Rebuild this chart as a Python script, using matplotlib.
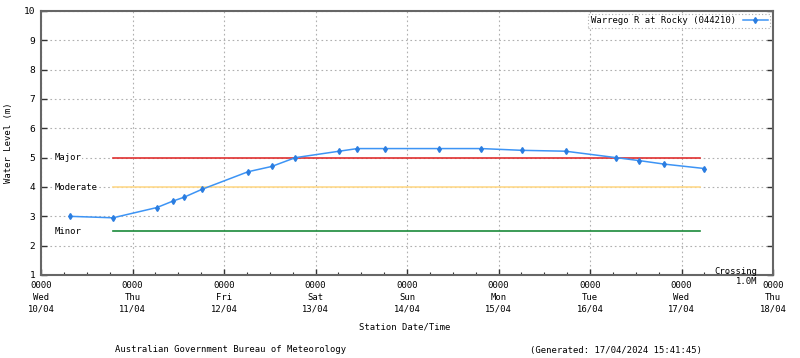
import matplotlib
matplotlib.use("Agg")
import matplotlib.pyplot as plt
from matplotlib.ticker import MultipleLocator

# Data: hours since Wed 10/04/2024 00:00 and water level (m)
hours = [7.6, 18.9, 30.4, 34.6, 37.5, 42.2, 54.3, 60.5, 66.7, 78.2, 83.0,
         90.2, 104.5, 115.5, 126.2, 137.6, 150.9, 156.9, 163.5, 174.0]
levels = [3.00, 2.95, 3.30, 3.52, 3.65, 3.92, 4.52, 4.70, 5.00, 5.22, 5.31,
          5.31, 5.31, 5.31, 5.25, 5.22, 5.00, 4.90, 4.78, 4.63]
series_name = "Warrego R at Rocky (044210)"

thresh_names = ["Major", "Moderate", "Minor"]
thresh_values = [5.0, 4.0, 2.5]
thresh_colors = ["#e03030", "#ffd98a", "#1a8a3a"]
thresh_start_h = 18.9
thresh_end_h = 172.8

day_times = ["0000"] * 9
day_names = ["Wed", "Thu", "Fri", "Sat", "Sun", "Mon", "Tue", "Wed", "Thu"]
day_dates = ["10/04", "11/04", "12/04", "13/04", "14/04", "15/04", "16/04", "17/04", "18/04"]

mono = "DejaVu Sans Mono"
fs = 6.4

fig = plt.figure(figsize=(8, 3.58), dpi=100)
ax = fig.add_axes([41/800, 1-275/358, (773-41)/800, (275-11)/358])

days = [h/24 for h in hours]
ts, te = thresh_start_h/24, thresh_end_h/24
for v, c in zip(thresh_values, thresh_colors):
    ax.plot([ts, te], [v, v], color=c, lw=1.2, zorder=3)
for n, v in zip(thresh_names, thresh_values):
    ax.text(0.15, v, n, family=mono, fontsize=fs, va="center", ha="left",
            zorder=4, bbox=dict(facecolor="white", edgecolor="none", pad=0.5))

ax.plot(days, levels, color="#3d94f5", lw=1.1, marker="d", ms=3,
        mfc="#2b7de0", mec="#2b7de0", zorder=5, label=series_name)

ax.set_xlim(0, 8)
ax.set_ylim(1, 10)
ax.xaxis.set_minor_locator(MultipleLocator(0.25))
ax.set_xticks(range(9))
ax.set_xticklabels([f"{a}\n{b}\n{c}" for a, b, c in zip(day_times, day_names, day_dates)],
                   family=mono, fontsize=fs, linespacing=1.45)
ax.set_yticks(range(1, 11))
ax.set_yticklabels([str(i) for i in range(1, 11)], family=mono, fontsize=fs + 0.4)
ax.tick_params(axis="both", which="major", direction="in", length=4, width=1,
               color="#333333", top=False, right=True, pad=4)
ax.tick_params(axis="x", which="minor", direction="in", length=2.5, width=0.8,
               color="#333333")
ax.grid(True, which="major", color="#b0b0b0", ls=(0, (1.5, 2.5)), lw=0.8)
for s in ax.spines.values():
    s.set_color("#666666")
    s.set_linewidth(1.5)

fig.text(9/800, 1-143/358, "Water Level (m)", family=mono, fontsize=fs,
         rotation=90, ha="center", va="center")
fig.text(405/800, 1-327/358, "Station Date/Time", family=mono, fontsize=fs,
         ha="center", va="center")
fig.text(115/800, 1-350/358, "Australian Government Bureau of Meteorology",
         family=mono, fontsize=fs, ha="left", va="center")
fig.text(702/800, 1-350/358, "(Generated: 17/04/2024 15:41:45)",
         family=mono, fontsize=fs, ha="right", va="center")
fig.text(757/800, 1-271.5/358, "Crossing", family=mono, fontsize=fs,
         ha="right", va="center")
fig.text(757/800, 1-281.5/358, "1.0M", family=mono, fontsize=fs,
         ha="right", va="center")

leg = ax.legend(loc="upper right", prop=dict(family=mono, size=fs),
                frameon=True, fancybox=False, markerfirst=False,
                handlelength=2.8, borderpad=0.3, borderaxespad=0.3)
leg.get_frame().set_edgecolor("#999999")
leg.get_frame().set_linestyle((0, (1, 2)))
leg.get_frame().set_linewidth(0.8)

fig.savefig("out.png", dpi=100)
